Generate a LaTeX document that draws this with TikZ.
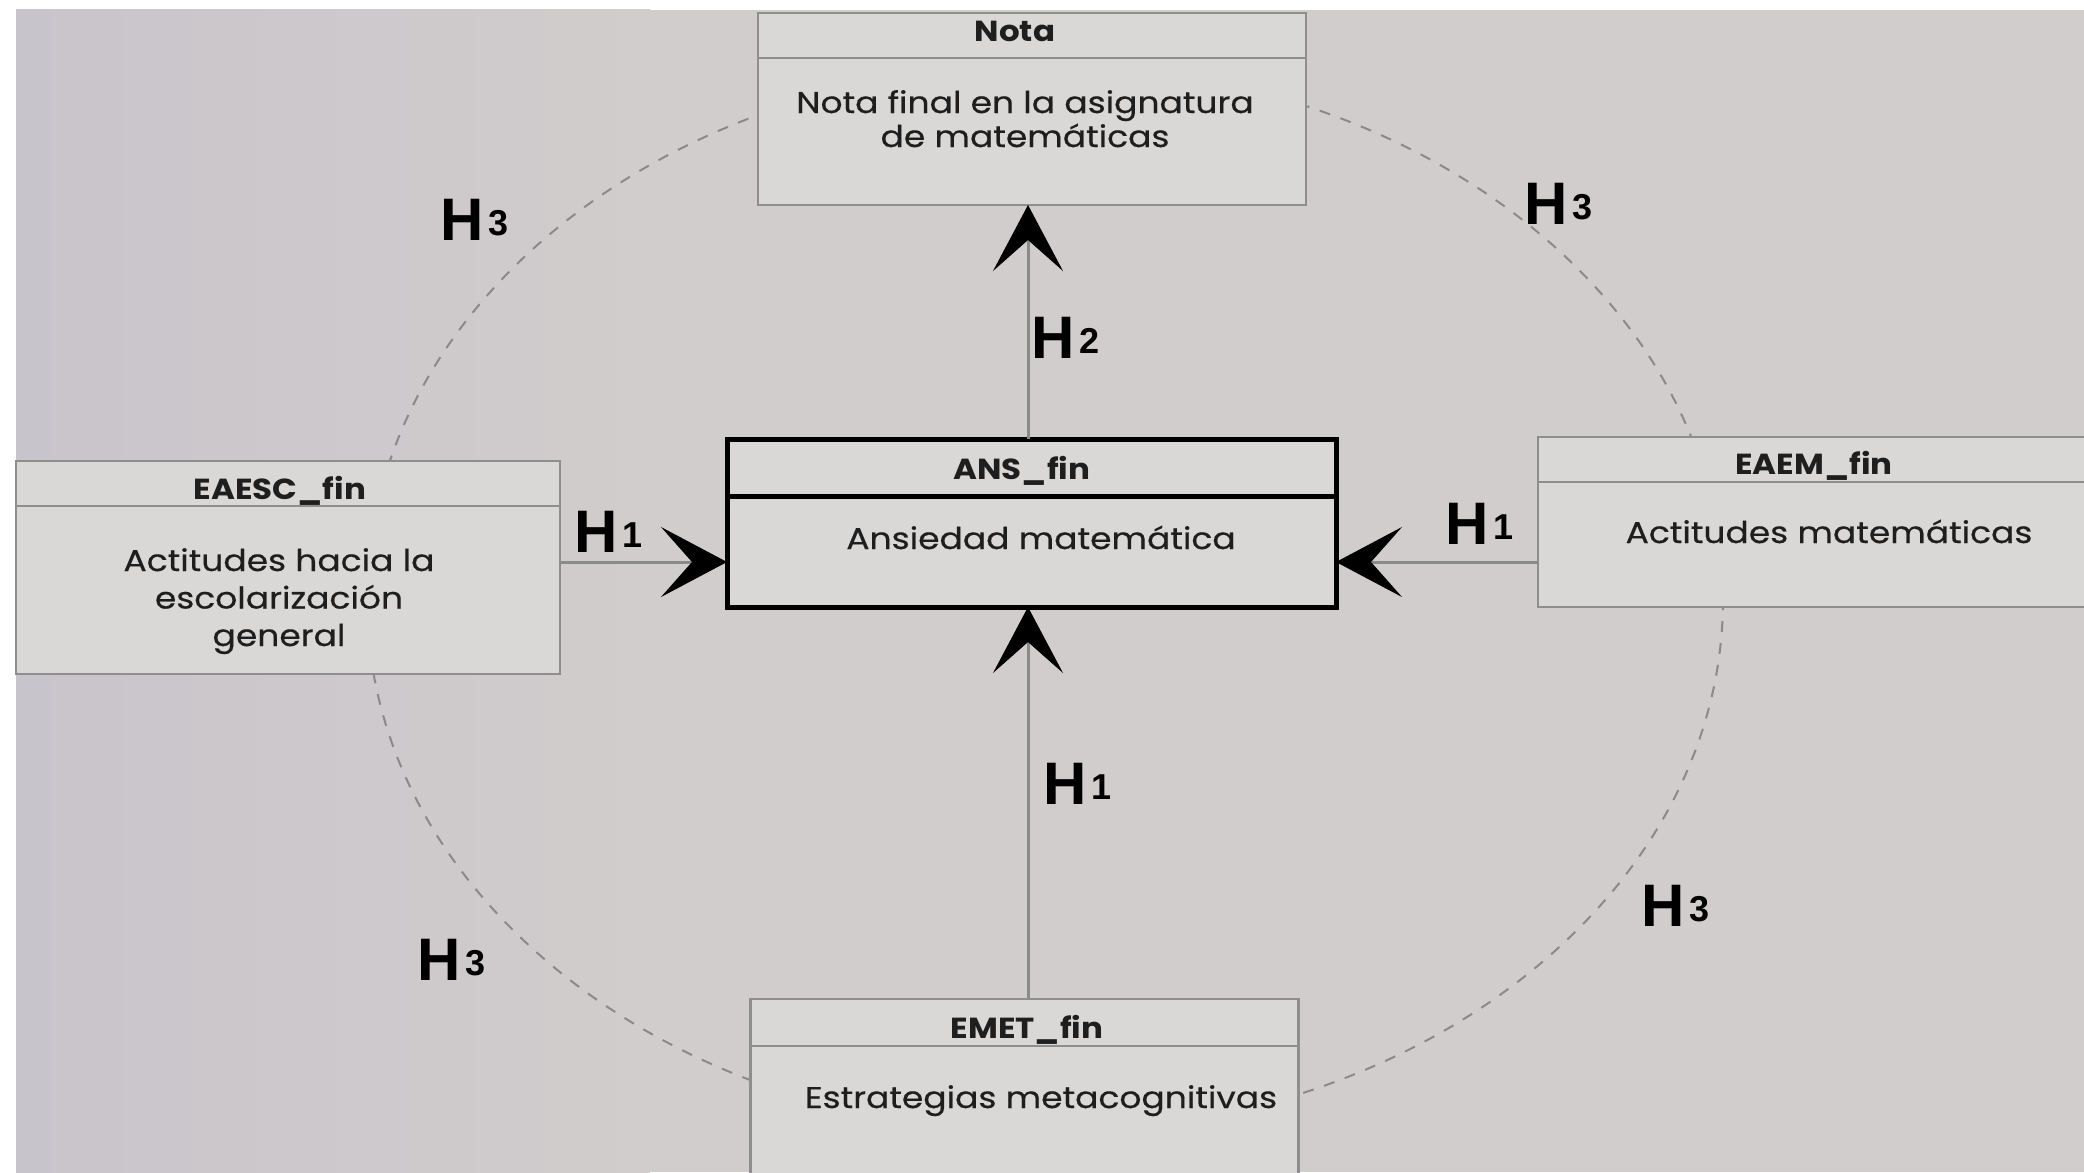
\documentclass[tikz,border=0pt]{standalone}
\usepackage{fontspec}
\setmainfont{Poppins}[FakeStretch=1.15, FakeBold=0.5]
\newfontfamily\titlefont{Poppins}[FakeStretch=1.12, UprightFont=*-Bold]
\newfontfamily\labelfont{Liberation Sans}
\usetikzlibrary{arrows.meta}

\definecolor{bgbase}{HTML}{D1CDCC}
\definecolor{bglav}{HTML}{C8C4CB}
\definecolor{boxfill}{HTML}{D9D8D7}
\definecolor{boxline}{HTML}{8E8E8E}
\definecolor{connline}{HTML}{8A8A8A}
\definecolor{txt}{HTML}{1E1E1E}

% H-label: big bold H followed by a small raised digit
\newcommand\hyplabel[1]{{\labelfont\bfseries\fontsize{60}{60}\selectfont H\kern5pt\raisebox{5pt}{\fontsize{36}{36}\selectfont #1}}}

\tikzset{
  entity/.style={draw=boxline, fill=boxfill, line width=2.5pt, inner sep=0pt, outer sep=0pt},
  mainentity/.style={draw=black, fill=boxfill, line width=5pt, inner sep=0pt, outer sep=0pt},
  divider/.style={draw=boxline, line width=2.5pt},
  maindivider/.style={draw=black, line width=5pt},
  titletext/.style={font=\titlefont\fontsize{29}{34}\selectfont, text=txt, anchor=base, inner sep=0pt},
  bodytext/.style={font=\fontsize{30}{34}\selectfont, text=txt, anchor=base, inner sep=0pt, align=center},
  conn/.style={draw=connline, line width=3pt,
    -{Stealth[length=66pt, width=70pt, inset=31pt, black, line width=1pt]}},
  circuit/.style={draw=connline, line width=2pt, dash pattern=on 11pt off 11pt},
  hyp/.style={anchor=base west, inner sep=0pt, text=black}
}

\begin{document}
\begin{tikzpicture}[x=1pt, y=-1pt]
\useasboundingbox (0,0) rectangle (2084,1172);
\fill[white] (0,0) rectangle (2084,1172);
\begin{scope}
\clip (0,0) rectangle (2084,1172);
% background panel with a soft lavender wash on the left
\fill[bgbase] (16,10) rectangle (2084,1172);
\shade[left color=bglav, right color=bgbase] (16,10) rectangle (650,1172);

% dashed ring linking the outer variables
\draw[circuit] (1045,599) ellipse [x radius=678, y radius=534];

% entity boxes
\node[entity, minimum width=548pt, minimum height=192pt] (nota) at (1032,109) {};
\draw[divider] (758,58) -- (1306,58);
\node[titletext] (notaT) at (1015,42) {Nota};
\node[bodytext] (notaB) at (1025,147) {Nota final en la asignatura\\de matemáticas};

\node[mainentity, minimum width=609pt, minimum height=168pt] (ans) at (1031.5,523) {};
\draw[maindivider] (727,496) -- (1336,496);
\node[titletext] (ansT) at (1022,479) {ANS\_fin};
\node[bodytext] (ansB) at (1041,549) {Ansiedad matemática};

\node[entity, minimum width=544pt, minimum height=213pt] (eaesc) at (288,567.5) {};
\draw[divider] (16,506) -- (560,506);
\node[titletext] (eaescT) at (280,499) {EAESC\_fin};
\node[bodytext, font=\fontsize{30}{37.5}\selectfont] (eaescB) at (279,646) {Actitudes hacia la\\escolarización\\general};

\node[entity, minimum width=582pt, minimum height=170pt] (eaem) at (1829,522) {};
\draw[divider] (1538,482) -- (2120,482);
\node[titletext] (eaemT) at (1814,474) {EAEM\_fin};
\node[bodytext] (eaemB) at (1829,543) {Actitudes matemáticas};

\node[entity, minimum width=548pt, minimum height=201pt] (emet) at (1024.5,1099.5) {};
\draw[divider] (751,1046) -- (1298,1046);
\node[titletext] (emetT) at (1027,1038) {EMET\_fin};
\node[bodytext] (emetB) at (1041,1108) {Estrategias metacognitivas};

% connectors
\coordinate (axisx) at (1028,0);
\coordinate (axisy) at (0,562);
\draw[conn] (ans.north -| axisx) -- (nota.south -| axisx);
\draw[conn] (emet.north -| axisx) -- (ans.south -| axisx);
\draw[conn] (eaesc.east |- axisy) -- (ans.west |- axisy);
\draw[conn] (eaem.west |- axisy) -- (ans.east |- axisy);

% hypothesis labels
\node[hyp] (h2) at (1031,358) {\hyplabel{2}};
\node[hyp] (h1l) at (574,552) {\hyplabel{1}};
\node[hyp] (h1r) at (1445,544) {\hyplabel{1}};
\node[hyp] (h1b) at (1043,804) {\hyplabel{1}};
\node[hyp] (h3a) at (440,240) {\hyplabel{3}};
\node[hyp] (h3b) at (1524,224) {\hyplabel{3}};
\node[hyp] (h3c) at (1641,926) {\hyplabel{3}};
\node[hyp] (h3d) at (417,980) {\hyplabel{3}};
\end{scope}
\end{tikzpicture}
\end{document}
